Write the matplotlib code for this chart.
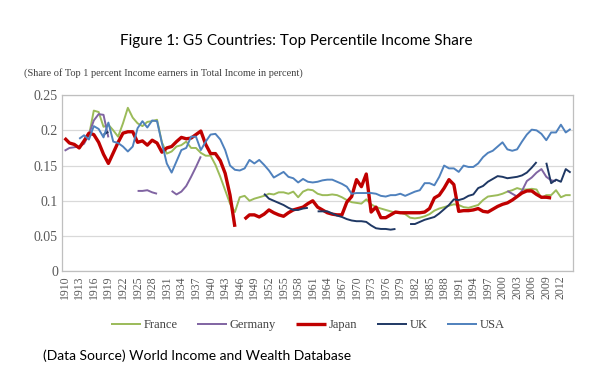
import numpy as np
import matplotlib.pyplot as plt

# Data (top 1% income share), one value per year 1910-2014, None = no data
years = list(range(1910, 2015))

france = [
    None, None, None, None, None, 0.192, 0.228, 0.226, 0.205, 0.208,
    0.200, 0.191, 0.210, 0.232, 0.218, 0.210, 0.206, 0.212, 0.213, 0.215,
    0.183, 0.167, 0.170, 0.177, 0.179, 0.184, 0.175, 0.175, 0.168, 0.164,
    0.164, 0.151, 0.134, 0.115, 0.096, 0.084, 0.105, 0.107, 0.100, 0.103,
    0.105, 0.107, 0.110, 0.109, 0.112, 0.112, 0.110, 0.113, 0.105, 0.113,
    0.116, 0.115, 0.110, 0.108, 0.108, 0.109, 0.108, 0.105, 0.101, 0.098,
    0.097, 0.096, 0.102, 0.095, 0.091, 0.089, 0.087, 0.085, 0.083, 0.083,
    0.081, 0.076, 0.075, 0.076, 0.078, 0.081, 0.086, 0.089, 0.091, 0.093,
    0.095, 0.094, 0.091, 0.090, 0.092, 0.094, 0.101, 0.106, 0.107, 0.108,
    0.110, 0.113, 0.115, 0.118, 0.116, 0.116, 0.117, 0.116, 0.104, 0.108,
    0.108, 0.115, 0.105, 0.108, 0.108,
]

germany = [
    0.171, 0.175, 0.176, 0.177, 0.181, 0.194, 0.214, 0.223, 0.222, 0.190,
    None, None, None, None, None, 0.114, 0.114, 0.115, 0.112, 0.110,
    None, None, 0.114, 0.109, 0.113, 0.121, 0.134, 0.148, 0.163, None,
    None, None, None, None, None, None, None, None, None, None,
    None, None, None, None, None, None, None, None, None, None,
    None, None, None, None, None, None, None, None, None, None,
    None, None, None, None, None, None, None, None, None, None,
    None, None, None, None, None, None, None, None, None, None,
    None, None, None, None, None, None, None, None, None, None,
    None, 0.114, 0.110, 0.106, 0.114, 0.128, 0.133, 0.140, 0.145, 0.134,
    0.129, 0.128, None, None, None,
]

japan = [
    0.189, 0.182, 0.180, 0.175, 0.185, 0.196, 0.194, 0.183, 0.166, 0.153,
    0.168, 0.183, 0.196, 0.198, 0.198, 0.183, 0.185, 0.179, 0.186, 0.182,
    0.169, 0.175, 0.177, 0.184, 0.190, 0.188, 0.189, 0.194, 0.199, 0.180,
    0.167, 0.167, 0.157, 0.139, 0.108, 0.063, None, 0.074, 0.080, 0.080,
    0.077, 0.081, 0.087, 0.083, 0.080, 0.078, 0.083, 0.087, 0.089, 0.091,
    0.096, 0.100, 0.091, 0.087, 0.083, 0.081, 0.080, 0.080, 0.098, 0.106,
    0.130, 0.120, 0.138, 0.084, 0.091, 0.076, 0.076, 0.080, 0.084, 0.083,
    0.083, 0.083, 0.083, 0.083, 0.084, 0.089, 0.104, 0.108, 0.118, 0.130,
    0.123, 0.085, 0.086, 0.086, 0.087, 0.089, 0.085, 0.084, 0.088, 0.092,
    0.095, 0.097, 0.101, 0.106, 0.111, 0.114, 0.114, 0.109, 0.105, 0.105,
    0.104, None, None, None, None,
]

uk = [
    None, None, None, None, None, None, None, None, 0.194, 0.198,
    None, None, None, None, None, None, None, None, None, None,
    None, None, None, None, None, None, None, None, None, None,
    None, None, None, None, None, None, None, None, None, None,
    None, 0.110, 0.103, 0.100, 0.097, 0.094, 0.090, 0.087, 0.087, 0.089,
    0.090, None, 0.085, 0.085, 0.085, 0.082, 0.079, 0.077, 0.074, 0.072,
    0.071, 0.071, 0.070, 0.065, 0.061, 0.060, 0.060, 0.059, 0.060, None,
    None, 0.067, 0.067, 0.070, 0.073, 0.075, 0.077, 0.082, 0.088, 0.094,
    0.102, 0.101, 0.103, 0.107, 0.109, 0.118, 0.121, 0.127, 0.131, 0.135,
    0.134, 0.132, 0.133, 0.134, 0.136, 0.140, 0.147, 0.155, None, 0.154,
    0.125, 0.130, 0.127, 0.145, 0.140,
]

usa = [
    None, None, None, 0.188, 0.193, 0.187, 0.206, 0.202, 0.190, 0.211,
    0.184, 0.182, 0.177, 0.170, 0.177, 0.203, 0.213, 0.204, 0.214, 0.213,
    0.182, 0.153, 0.140, 0.156, 0.172, 0.175, 0.191, 0.191, 0.172, 0.184,
    0.194, 0.195, 0.187, 0.172, 0.150, 0.144, 0.143, 0.146, 0.158, 0.153,
    0.158, 0.151, 0.143, 0.133, 0.137, 0.141, 0.134, 0.132, 0.126, 0.131,
    0.127, 0.126, 0.127, 0.129, 0.130, 0.130, 0.127, 0.124, 0.120, 0.110,
    0.111, 0.111, 0.111, 0.111, 0.110, 0.107, 0.106, 0.108, 0.108, 0.110,
    0.107, 0.110, 0.113, 0.115, 0.125, 0.125, 0.122, 0.134, 0.150, 0.146,
    0.146, 0.141, 0.150, 0.148, 0.148, 0.153, 0.162, 0.168, 0.171, 0.177,
    0.183, 0.173, 0.171, 0.173, 0.184, 0.194, 0.201, 0.200, 0.195, 0.186,
    0.197, 0.197, 0.208, 0.197, 0.202,
]

series = [
    ('France', france, '#9BBB59', 1.4),
    ('Germany', germany, '#8064A2', 1.4),
    ('Japan', japan, '#C00000', 2.4),
    ('UK', uk, '#1F3864', 1.4),
    ('USA', usa, '#4F81BD', 1.4),
]

tick_years = years[::3]

# Plot
fig = plt.figure(figsize=(5.92, 3.82), dpi=100)
ax = fig.add_axes([0.105, 0.29, 0.863, 0.461])

for name, vals, color, lw in series:
    y = np.array([np.nan if v is None else v for v in vals], dtype=float)
    ax.plot(years, y, color=color, lw=lw, label=name, solid_capstyle='butt')

ax.set_xlim(1909.5, 2014.5)
ax.set_ylim(0, 0.25)
ax.set_yticks([0, 0.05, 0.1, 0.15, 0.2, 0.25])
ax.set_yticklabels(['0', '0.05', '0.1', '0.15', '0.2', '0.25'],
                   family='Liberation Serif', fontsize=10, color='#595959')
ax.set_xticks(tick_years)
ax.set_xticklabels([str(t) for t in tick_years], rotation=90,
                   family='Liberation Serif', fontsize=8.5, color='#595959')
ax.tick_params(length=0, pad=3)
ax.grid(axis='y', color='#D9D9D9', lw=0.9)
ax.set_axisbelow(True)
for s in ax.spines.values():
    s.set_color('#BFBFBF')
    s.set_linewidth(0.9)

fig.text(0.5, 0.893, 'Figure 1: G5 Countries: Top Percentile Income Share',
         ha='center', va='center', family='Lato', fontsize=11)
fig.text(0.04, 0.81, '(Share of Top 1 percent Income earners in Total Income in percent)',
         ha='left', va='center', family='Liberation Serif', fontsize=7.5, color='#404040')
fig.text(0.072, 0.07, '(Data Source) World Income and Wealth Database',
         ha='left', va='center', family='Lato', fontsize=10)

leg = fig.legend(loc='center', bbox_to_anchor=(0.52, 0.149), ncol=5, frameon=False,
                 prop={'family': 'Liberation Serif', 'size': 9}, handlelength=2.4,
                 handletextpad=0.2, columnspacing=1.6)
for t in leg.get_texts():
    t.set_color('#404040')

fig.savefig('out.png', dpi=100)
